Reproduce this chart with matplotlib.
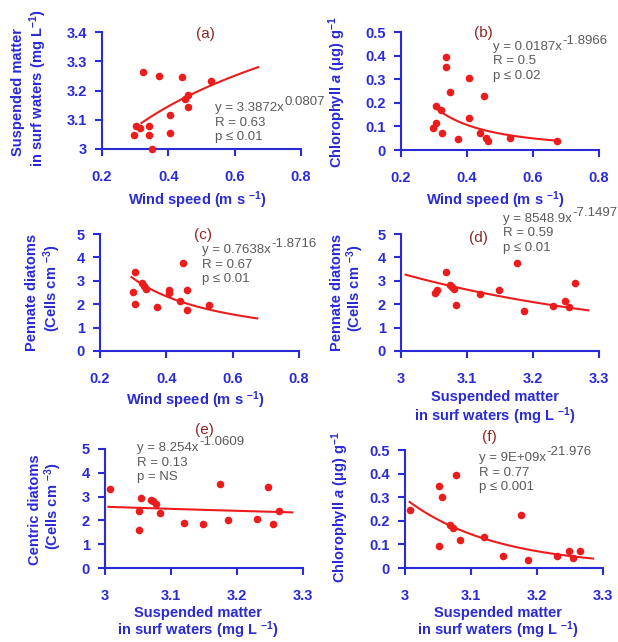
import numpy as np
import matplotlib.pyplot as plt

plt.rcParams['font.family'] = ['Liberation Sans', 'DejaVu Sans']
plt.rcParams['mathtext.fontset'] = 'custom'
plt.rcParams['mathtext.rm'] = 'Liberation Sans'
plt.rcParams['mathtext.it'] = 'Liberation Sans:italic:bold'
plt.rcParams['mathtext.bf'] = 'Liberation Sans:bold'

BLUE = '#2a2ad6'
RED = '#ec1c1c'
DARKRED = '#8e2626'
GRAY = '#5a5a5a'
W, H = 618, 642

# (a) wind speed vs suspended matter
wind_a = [0.324, 0.371, 0.440, 0.528, 0.450, 0.460, 0.458, 0.406, 0.406,
          0.297, 0.304, 0.316, 0.341, 0.341, 0.351]
susp_a = [3.262, 3.251, 3.246, 3.231, 3.171, 3.183, 3.145, 3.115, 3.054,
          3.049, 3.079, 3.071, 3.077, 3.049, 3.001]

# (b) wind speed vs chlorophyll a
wind_b = [0.337, 0.337, 0.349, 0.407, 0.453, 0.407, 0.307, 0.322, 0.307,
          0.297, 0.324, 0.372, 0.440, 0.457, 0.464, 0.529, 0.673]
chl_b = [0.394, 0.351, 0.245, 0.303, 0.227, 0.135, 0.187, 0.170, 0.116,
         0.092, 0.071, 0.045, 0.074, 0.052, 0.038, 0.052, 0.038]

# (c) wind speed vs pennate diatoms
wind_c = [0.307, 0.298, 0.307, 0.327, 0.332, 0.339, 0.372, 0.407, 0.407,
          0.441, 0.451, 0.461, 0.463, 0.530]
penn_c = [3.36, 2.51, 1.99, 2.89, 2.78, 2.65, 1.89, 2.61, 2.46,
          2.14, 3.75, 2.61, 1.74, 1.97]

# (d) suspended matter vs pennate diatoms
susp_d = [3.051, 3.055, 3.068, 3.074, 3.077, 3.080, 3.083, 3.120, 3.148,
          3.176, 3.186, 3.231, 3.249, 3.254, 3.264]
penn_d = [2.50, 2.60, 3.36, 2.82, 2.75, 2.65, 1.98, 2.44, 2.61,
          3.75, 1.72, 1.94, 2.14, 1.90, 2.91]

# (e) suspended matter vs centric diatoms
susp_e = [3.008, 3.055, 3.052, 3.052, 3.069, 3.073, 3.078, 3.084, 3.119,
          3.148, 3.174, 3.187, 3.230, 3.247, 3.254, 3.264]
cent_e = [3.32, 2.93, 2.39, 1.58, 2.87, 2.82, 2.68, 2.32, 1.90,
          1.86, 3.52, 2.03, 2.06, 3.39, 1.86, 2.39]

# (f) suspended matter vs chlorophyll a
susp_f = [3.007, 3.052, 3.056, 3.052, 3.078, 3.068, 3.072, 3.083, 3.120,
          3.148, 3.176, 3.186, 3.231, 3.248, 3.254, 3.265]
chl_f = [0.244, 0.348, 0.301, 0.092, 0.392, 0.183, 0.169, 0.118, 0.130,
         0.049, 0.223, 0.035, 0.049, 0.070, 0.042, 0.070]

# power-law trend lines y = a * x^b over [x0, x1]
fits = {
    'a': (3.3872, 0.0807, 0.319, 0.671),
    'b': (0.0187, -1.8966, 0.301, 0.673),
    'c': (0.943, -0.99, 0.295, 0.674),
    'd': (8548.9, -7.1497, 3.007, 3.284),
    'e': (8.254, -1.0609, 3.005, 3.284),
    'f': (9e9, -21.976, 3.007, 3.285),
}

wind_ticks = [0.2, 0.4, 0.6, 0.8]
susp_ticks = [3, 3.1, 3.2, 3.3]
susp_yticks = [3, 3.1, 3.2, 3.3, 3.4]
chl_ticks = [0, 0.1, 0.2, 0.3, 0.4, 0.5]
cell_ticks = [0, 1, 2, 3, 4, 5]

lab_wind = r'Wind speed (m s $^{\mathbf{-1}}$)'
lab_susp1 = 'Suspended matter'
lab_susp2 = r'in surf waters (mg L $^{\mathbf{-1}}$)'
lab_susp2y = r'in surf waters (mg L$^{\mathbf{-1}}$)'
lab_chl = r'Chlorophyll $\mathit{a}$ ($\mathbf{\mu}$g) g$^{\mathbf{-1}}$'
lab_cells = r'(Cells cm $^{\mathbf{-3}}$)'


def rect(x0, x1, y0, y1):
    return [x0 / W, 1 - y1 / H, (x1 - x0) / W, (y1 - y0) / H]


def ftext(x, y, s, **kw):
    return fig.text(x / W, 1 - y / H, s, **kw)


panels = [
    # key, axes box, x, y, xticks, yticks, xlabel lines, ylabel lines, tag, equation
    ('a', rect(102, 301, 32, 149), wind_a, susp_a, wind_ticks, susp_yticks,
     [(lab_wind, 197, 200)],
     [(lab_susp1, 18, 92), (lab_susp2y, 38, 88)], (205, 34),
     [('y = 3.3872x', '0.0807'), ('R = 0.63', ''), ('p ≤ 0.01', '')], (215, 108)),
    ('b', rect(401, 599, 32, 150), wind_b, chl_b, wind_ticks, chl_ticks,
     [(lab_wind, 495, 200)],
     [(lab_chl, 337, 92)], (483, 33),
     [('y = 0.0187x', '-1.8966'), ('R = 0.5', ''), ('p ≤ 0.02', '')], (493, 47)),
    ('c', rect(100, 299, 234, 351), wind_c, penn_c, wind_ticks, cell_ticks,
     [(lab_wind, 195, 400)],
     [('Pennate diatoms', 32, 292), (lab_cells, 52, 288)], (203, 235),
     [('y = 0.7638x', '-1.8716'), ('R = 0.67', ''), ('p ≤ 0.01', '')], (202, 250)),
    ('d', rect(401, 599, 234, 351), susp_d, penn_d, susp_ticks, cell_ticks,
     [(lab_susp1, 495, 397), (lab_susp2, 495, 416)],
     [('Pennate diatoms', 337, 292), (lab_cells, 355, 288)], (478, 238),
     [('y = 8548.9x', '-7.1497'), ('R = 0.59', ''), ('p ≤ 0.01', '')], (503, 219)),
    ('e', rect(105, 303, 449, 568), susp_e, cent_e, susp_ticks, cell_ticks,
     [(lab_susp1, 198, 613), (lab_susp2, 198, 630)],
     [('Centric diatoms', 35, 510), (lab_cells, 53, 506)], (204, 430),
     [('y = 8.254x', '-1.0609'), ('R = 0.13', ''), ('p = NS', '')], (137, 448)),
    ('f', rect(405, 603, 450, 568), susp_f, chl_f, susp_ticks, chl_ticks,
     [(lab_susp1, 498, 613), (lab_susp2, 498, 630)],
     [(lab_chl, 340, 507)], (489, 437),
     [('y = 9E+09x', '-21.976'), ('R = 0.77', ''), ('p ≤ 0.001', '')], (479, 458)),
]

fig = plt.figure(figsize=(W / 100, H / 100), dpi=100)

for key, r, xs, ys, xt, yt, xls, yls, tag, eq, eqpos in panels:
    ax = fig.add_axes(r)
    ax.scatter(xs, ys, s=30, color=RED, zorder=3, clip_on=False, linewidths=0)
    a, b, x0, x1 = fits[key]
    xf = np.linspace(x0, x1, 60)
    ax.plot(xf, a * xf ** b, color=RED, lw=1.5, zorder=2)

    ax.set_xlim(xt[0], xt[-1])
    ax.set_ylim(yt[0], yt[-1])
    ax.set_xticks(xt, labels=['%g' % v for v in xt])
    ax.set_yticks(yt, labels=['%g' % v for v in yt])
    for s in ['top', 'right']:
        ax.spines[s].set_visible(False)
    for s in ['left', 'bottom']:
        ax.spines[s].set_color(BLUE)
        ax.spines[s].set_linewidth(1.5)
    ax.tick_params(direction='out', length=5, width=1.5, colors=BLUE, labelsize=10.5)
    ax.tick_params(axis='x', pad=10)
    ax.tick_params(axis='y', pad=6)
    for lbl in ax.get_xticklabels() + ax.get_yticklabels():
        lbl.set_fontweight('bold')
    ax.patch.set_visible(False)

    for s, x, y in xls:
        ftext(x, y, s, ha='center', va='center', color=BLUE,
              fontsize=10.5, fontweight='bold')
    for s, x, y in yls:
        ftext(x, y, s, ha='center', va='center', color=BLUE,
              fontsize=10.5, fontweight='bold', rotation=90)
    ftext(tag[0], tag[1], '(%s)' % key, ha='center', va='center',
          color=DARKRED, fontsize=11)
    for i, (base, sup) in enumerate(eq):
        t = ftext(eqpos[0], eqpos[1] + i * 14.5, base, ha='left', va='center',
                  color=GRAY, fontsize=9.5)
        if sup:
            fig.add_artist(plt.Annotation(sup, xy=(1.0, 0.5), xycoords=t,
                                          xytext=(0.5, 4.5), textcoords='offset points',
                                          ha='left', va='center', color=GRAY,
                                          fontsize=9.5))

plt.savefig('out.png', dpi=100)
